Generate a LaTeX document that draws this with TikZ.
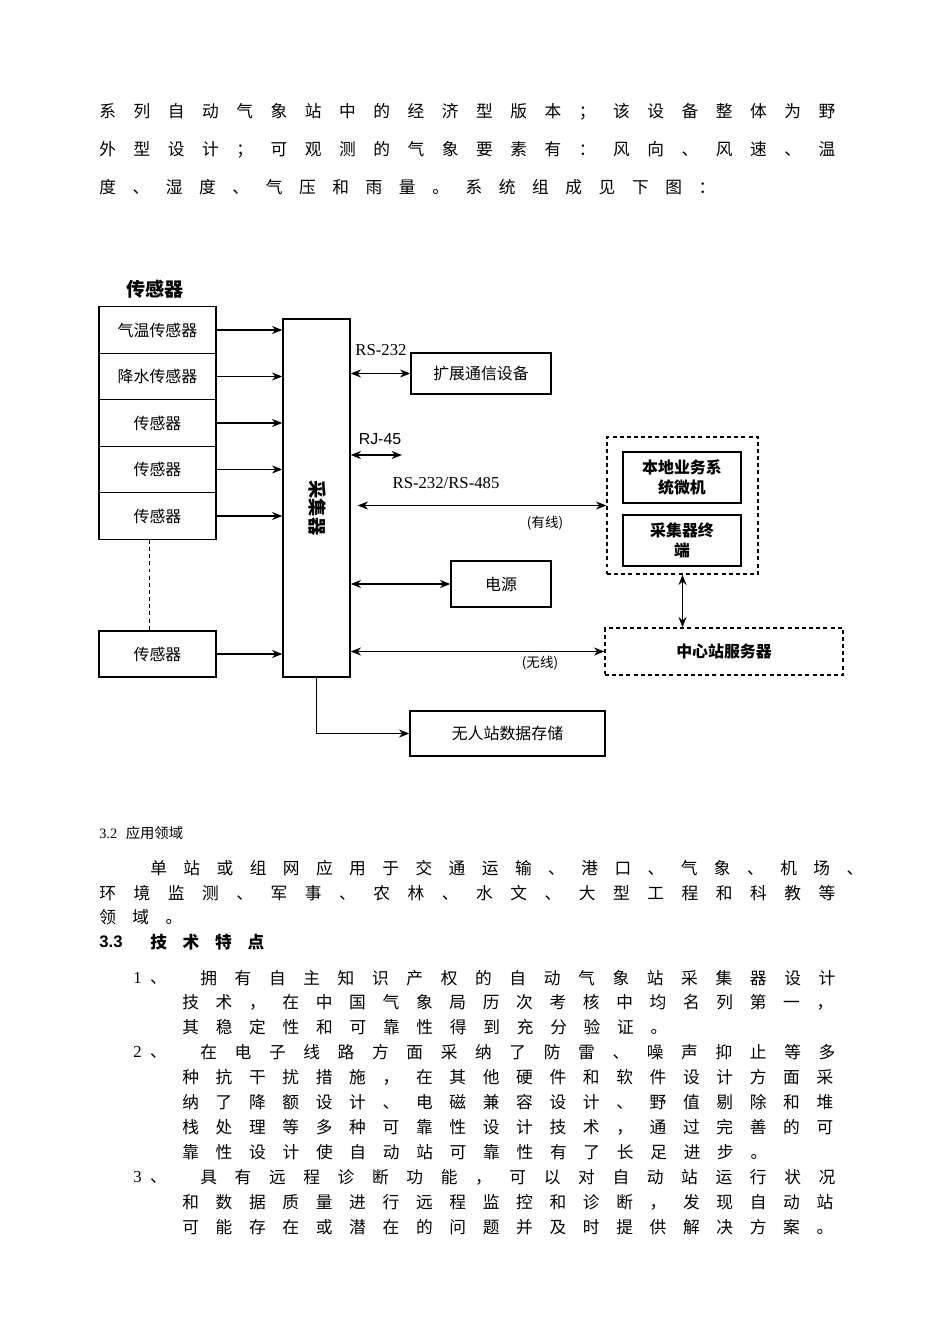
\documentclass[tikz,border=0pt]{standalone}
\usepackage{fontspec}
\usetikzlibrary{arrows.meta}
\setmainfont{Noto Sans CJK SC}
\newfontfamily\latserif{Liberation Serif}
\newfontfamily\latsans{Liberation Sans}
\newdimen\pxu \pxu=0.0221cm
\newcommand{\spread}[2]{\makebox[#1\pxu][s]{#2}}

\begin{document}
\begin{tikzpicture}[x=0.0221cm, y=-0.0221cm, >={Stealth[length=6.5pt,width=5pt]},
    box/.style={draw, line width=0.8pt, inner sep=0, font=\fontsize{10}{12}\selectfont},
    dbox/.style={box, dash pattern=on 2.5pt off 2pt},
    bbox/.style={box, font=\bfseries\fontsize{10}{12.5}\selectfont, align=center},
    conn/.style={line width=1.1pt},
    txt/.style={anchor=west, inner sep=0, font=\fontsize{10.5}{12}\selectfont},
    lab/.style={inner sep=0, font=\latserif\fontsize{10.5}{12}\selectfont},
    note/.style={inner sep=0, font=\fontsize{8.5}{10}\selectfont}]
  \useasboundingbox (0,0) rectangle (950,1344);

  % text above the diagram
  \node[txt] (t1) at (99,112) {\spread{736}{系 列 自 动 气 象 站 中 的 经 济 型 版 本 ； 该 设 备 整 体 为 野}};
  \node[txt] (t2) at (99,150) {\spread{736}{外 型 设 计 ； 可 观 测 的 气 象 要 素 有 ： 风 向 、 风 速 、 温}};
  \node[txt] (t3) at (99,187) {\spread{616}{度 、 湿 度 、 气 压 和 雨 量 。 系 统 组 成 见 下 图 ：}};

  % sensors
  \node[font=\bfseries\fontsize{12}{14}\selectfont] (title) at (155,289) {传感器};
  \node[box, minimum width=117\pxu, minimum height=46.5\pxu] (s1) at (157.5,330) {气温传感器};
  \node[box, minimum width=117\pxu, minimum height=46.5\pxu] (s2) at (157.5,376.5) {降水传感器};
  \node[box, minimum width=117\pxu, minimum height=46.5\pxu] (s3) at (157.5,423) {传感器};
  \node[box, minimum width=117\pxu, minimum height=46.5\pxu] (s4) at (157.5,469.5) {传感器};
  \node[box, minimum width=117\pxu, minimum height=46.5\pxu] (s5) at (157.5,516) {传感器};
  \node[box, minimum width=117\pxu, minimum height=46\pxu] (s6) at (157.5,654) {传感器};
  \draw[line width=0.8pt, dash pattern=on 2.5pt off 2pt] ([xshift=-8\pxu]s5.south) -- ([xshift=-8\pxu]s6.north);

  % collector
  \node[box, minimum width=67\pxu, minimum height=358\pxu] (col) at (316.5,498) {};
  \node[font=\bfseries\fontsize{11.5}{13}\selectfont, rotate=-90] (coltext) at (318,508) {采集器};
  \foreach \s in {s1,s2,s3,s4,s5,s6}
    \draw[conn,->] (\s.east) -- (\s.east -| col.west);

  % right hand side
  \node[box, minimum width=140\pxu, minimum height=41\pxu] (ext) at (481,373.5) {扩展通信设备};
  \node[lab] (l232) at (381,350) {RS-232};
  \draw[conn,<->] (col.east |- ext.west) -- (ext.west);

  \coordinate (rj) at (402,455);
  \node[inner sep=0, font=\latsans\fontsize{10}{12}\selectfont] (l45) at (380,439) {RJ-45};
  \draw[conn,<->] (col.east |- rj) -- (rj);

  \node[dbox, minimum width=151\pxu, minimum height=137\pxu] (local) at (682.5,505.5) {};
  \node[bbox, minimum width=118\pxu, minimum height=51\pxu] (pc) at (682,477.5) {本地业务系\\统微机};
  \node[bbox, minimum width=118\pxu, minimum height=51\pxu] (term) at (682,540.5) {采集器终\\端};
  \node[lab] (l485) at (446,483) {RS-232/RS-485};
  \draw[conn,<->] ([xshift=7\pxu]col.east |- local.west) -- (local.west);
  \node[note] (wired) at (545,523) {(有线)};

  \node[box, minimum width=100\pxu, minimum height=46\pxu] (power) at (501,584) {电源};
  \draw[conn,<->] (col.east |- power.west) -- (power.west);

  \node[dbox, font=\bfseries\fontsize{10}{12}\selectfont, minimum width=238\pxu, minimum height=47\pxu] (srv) at (724,651.5) {中心站服务器};
  \draw[conn,<->] (local.south) -- (local.south |- srv.north);
  \draw[conn,<->] (col.east |- srv.west) -- (srv.west);
  \node[note] (wireless) at (540,663) {(无线)};

  \node[box, minimum width=195\pxu, minimum height=45\pxu] (store) at (507.5,733.5) {无人站数据存储};
  \draw[conn,->] (col.south) |- (store.west);

  % text below the diagram
  \node[txt, font=\fontsize{9}{11}\selectfont] (h32) at (99,833) {{\latserif 3.2}\hspace{0.6em}应用领域};
  \node[txt] (p1) at (150,868) {\spread{713}{单 站 或 组 网 应 用 于 交 通 运 输 、 港 口 、 气 象 、 机 场 、}};
  \node[txt] (p2) at (99,893) {\spread{736}{环 境 监 测 、 军 事 、 农 林 、 水 文 、 大 型 工 程 和 科 教 等}};
  \node[txt] (p3) at (99,917) {\spread{83}{领 域 。}};
  \node[txt, font=\bfseries\fontsize{10.5}{12}\selectfont] (h33) at (99,942) {{\latsans\bfseries 3.3}};
  \node[txt, font=\bfseries\fontsize{10.5}{12}\selectfont] (h33b) at (150,942) {\spread{114}{技 术 特 点}};

  \node[txt] (n1) at (133,978) {{\latserif 1}\hspace{0.5em}、};
  \node[txt] (l1) at (200,978) {\spread{635}{拥 有 自 主 知 识 产 权 的 自 动 气 象 站 采 集 器 设 计}};
  \node[txt] (l2) at (182,1002) {\spread{651}{技 术 ， 在 中 国 气 象 局 历 次 考 核 中 均 名 列 第 一 ，}};
  \node[txt] (l3) at (182,1027) {\spread{485}{其 稳 定 性 和 可 靠 性 得 到 充 分 验 证 。}};
  \node[txt] (n2) at (133,1052) {{\latserif 2}\hspace{0.5em}、};
  \node[txt] (l4) at (200,1052) {\spread{635}{在 电 子 线 路 方 面 采 纳 了 防 雷 、 噪 声 抑 止 等 多}};
  \node[txt] (l5) at (182,1077) {\spread{651}{种 抗 干 扰 措 施 ， 在 其 他 硬 件 和 软 件 设 计 方 面 采}};
  \node[txt] (l6) at (182,1102) {\spread{651}{纳 了 降 额 设 计 、 电 磁 兼 容 设 计 、 野 值 剔 除 和 堆}};
  \node[txt] (l7) at (182,1127) {\spread{651}{栈 处 理 等 多 种 可 靠 性 设 计 技 术 ， 通 过 完 善 的 可}};
  \node[txt] (l8) at (182,1152) {\spread{585}{靠 性 设 计 使 自 动 站 可 靠 性 有 了 长 足 进 步 。}};
  \node[txt] (n3) at (133,1177) {{\latserif 3}\hspace{0.5em}、};
  \node[txt] (l9) at (200,1177) {\spread{635}{具 有 远 程 诊 断 功 能 ， 可 以 对 自 动 站 运 行 状 况}};
  \node[txt] (l10) at (182,1202) {\spread{651}{和 数 据 质 量 进 行 远 程 监 控 和 诊 断 ， 发 现 自 动 站}};
  \node[txt] (l11) at (182,1227) {\spread{651}{可 能 存 在 或 潜 在 的 问 题 并 及 时 提 供 解 决 方 案 。}};
\end{tikzpicture}
\end{document}
